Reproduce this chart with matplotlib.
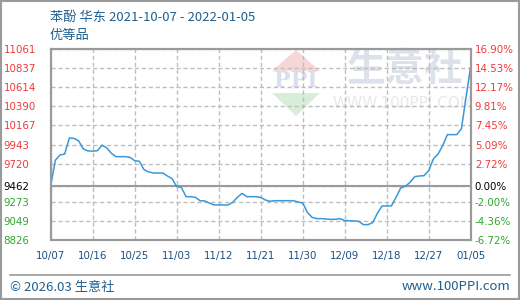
import matplotlib
matplotlib.use("Agg")
import matplotlib.pyplot as plt
import pandas as pd
from matplotlib.patches import Polygon, Rectangle
from matplotlib.lines import Line2D

# daily price, 2021-10-07 .. 2022-01-05
start_date = "2021-10-07"
end_date = "2022-01-05"
prices = [
    9462, 9760, 9821, 9832, 10020, 10015, 9985, 9891, 9868, 9866,
    9871, 9935, 9905, 9840, 9801, 9801, 9801, 9793, 9754, 9747,
    9649, 9622, 9610, 9610, 9610, 9575, 9544, 9450, 9442, 9333,
    9333, 9325, 9286, 9283, 9259, 9236, 9236, 9236, 9236, 9267,
    9325, 9372, 9333, 9333, 9333, 9325, 9294, 9279, 9286, 9286,
    9286, 9286, 9286, 9271, 9259, 9150, 9091, 9076, 9076, 9072,
    9068, 9068, 9076, 9052, 9052, 9049, 9045, 9006, 9006, 9029,
    9138, 9224, 9224, 9224, 9325, 9435, 9454, 9501, 9567, 9575,
    9579, 9637, 9774, 9832, 9930, 10059, 10059, 10059, 10125, 10495,
    10860,
]
base_price = 9462
y_ticks = [8826, 9049, 9273, 9462, 9720, 9943, 10167, 10390, 10614, 10837, 11061]
pct_labels = ["-6.72%", "-4.36%", "-2.00%", "0.00%", "2.72%", "5.09%",
              "7.45%", "9.81%", "12.17%", "14.53%", "16.90%"]
x_tick_labels = ["10/07", "10/16", "10/25", "11/03", "11/12", "11/21",
                 "11/30", "12/09", "12/18", "12/27", "01/05"]
title = "苯酚 华东 2021-10-07 - 2022-01-05"
subtitle = "优等品"

W, H = 520, 300
cjk = ["Noto Sans CJK SC", "DejaVu Sans"]
text_blue = "#1f5f8e"
red, green = "#f03a3a", "#2ea82e"
grid_c = "#bdbdbd"

fig = plt.figure(figsize=(W / 100, H / 100), dpi=100)

# background layer in pixel coords: border, footer, watermark
bg = fig.add_axes([0, 0, 1, 1], zorder=0)
bg.set_xlim(0, W)
bg.set_ylim(H, 0)
bg.axis("off")
bg.add_patch(Rectangle((1, 1), W - 2, H - 2, fill=False, ec="#9a9a9a", lw=1.5))
bg.add_line(Line2D([10, 510], [275, 275], color="#9a9a9a", lw=1.2))
bg.text(10, 287, "© 2026.03 生意社", family=cjk, fontsize=9.5, color=text_blue,
        va="center", ha="left")
bg.text(510, 287, "www.100PPI.com", family=cjk, fontsize=9.5, color=text_blue,
        va="center", ha="right")
bg.text(50, 17, title, family=cjk, fontsize=9.5, color=text_blue, va="center")
bg.text(50, 36, subtitle, family=cjk, fontsize=9.5, color=text_blue, va="center")

# watermark
bg.add_patch(Polygon([[272, 71], [296, 50], [320, 71]], color="#f7d6d6", lw=0))
bg.text(296, 81, "PPI", family="DejaVu Serif", fontsize=16, fontweight="bold",
        color="#d9dfee", ha="center", va="center")
bg.add_patch(Polygon([[272, 93], [320, 93], [296, 116]], color="#d8eed8", lw=0))
bg.text(405, 70, "生意社", family=cjk, fontsize=28, fontweight="bold",
        color="#dde1ea", ha="center", va="center")
bg.text(403, 104, "WWW.100PPI.COM", family="DejaVu Sans", fontsize=11,
        color="#e8e8e8", ha="center", va="center")

# main chart
left, right, top, bottom = 50.7, 470.7, 49, 240
ax = fig.add_axes([left / W, 1 - bottom / H, (right - left) / W, (bottom - top) / H],
                  zorder=1)
ax.patch.set_visible(False)

dates = pd.date_range(start_date, end_date, freq="D")
ax.plot(dates, prices, color="#3a98d8", lw=1.1, zorder=5)

ax.set_xlim(dates[0], dates[-1])
ax.set_ylim(y_ticks[0], y_ticks[-1])

x_ticks = dates[::9]
ax.set_xticks(x_ticks)
ax.set_xticklabels(x_tick_labels, family="DejaVu Sans", fontsize=7.4, color="#1f4f7e")
ax.set_yticks(y_ticks)
ax.set_yticklabels([str(v) for v in y_ticks], family="DejaVu Sans", fontsize=7.4)
ax.tick_params(axis="both", length=0)
ax.tick_params(axis="x", pad=8)
ax.tick_params(axis="y", pad=34)
for lbl, v in zip(ax.get_yticklabels(), y_ticks):
    lbl.set_horizontalalignment("left")
    lbl.set_color(red if v > base_price else green if v < base_price else "black")

# dashed grid, solid base line
ax.grid(True, color=grid_c, lw=1.0, ls=(0, (3, 2)))
ax.axhline(base_price, color="#9a9a9a", lw=1.5, zorder=4)

ax2 = ax.twinx()
ax2.set_ylim(ax.get_ylim())
ax2.set_yticks(y_ticks)
ax2.set_yticklabels(pct_labels, family="DejaVu Sans", fontsize=7.4)
ax2.tick_params(axis="y", length=0, pad=3)
for lbl, v in zip(ax2.get_yticklabels(), y_ticks):
    lbl.set_color(red if v > base_price else green if v < base_price else "black")

for a in (ax, ax2):
    for s in a.spines.values():
        s.set_color("#9a9a9a")
        s.set_linewidth(1.5)

fig.savefig("out.png", dpi=100)
